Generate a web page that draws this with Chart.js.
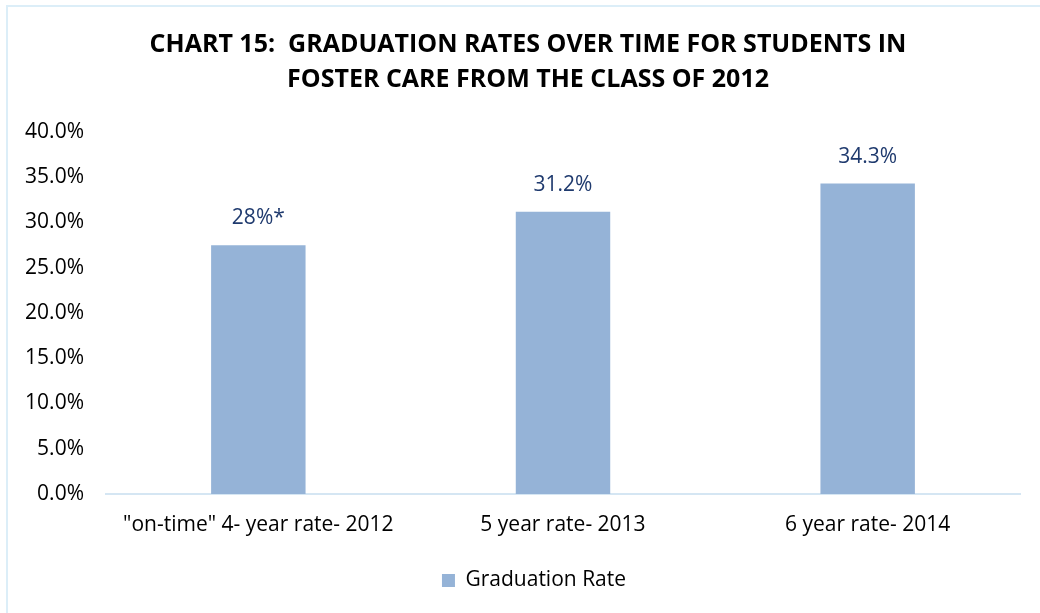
<!DOCTYPE html>
<html>
<head>
<meta charset="utf-8">
<script src="https://cdn.jsdelivr.net/npm/chart.js@4.4.1/dist/chart.umd.min.js"></script>
<style>
  html, body { margin: 0; padding: 0; background: #fff; }
  #wrap { position: relative; width: 1040px; height: 613px; overflow: hidden; }
  #frame { position: absolute; left: 6px; top: 5px; width: 1100px; height: 700px; border: 2px solid #DCEEF8; box-sizing: border-box; pointer-events: none; }
  canvas { position: absolute; left: 0; top: 0; }
</style>
</head>
<body>
<div id="wrap">
  <canvas id="c" width="1040" height="613"></canvas>
  <div id="frame"></div>
</div>
<script>
const categories = ['"on-time" 4- year rate- 2012', '5 year rate- 2013', '6 year rate- 2014'];
const graduationRate = [27.5, 31.2, 34.3];
const valueLabels = ['28%*', '31.2%', '34.3%'];
const titleLines = ['CHART 15:  GRADUATION RATES OVER TIME FOR STUDENTS IN', 'FOSTER CARE FROM THE CLASS OF 2012'];
const seriesName = 'Graduation Rate';

const FONT = '"Open Sans", Lato, sans-serif';

const valueLabelPlugin = {
  id: 'valueLabels',
  afterDatasetsDraw(chart) {
    const ctx = chart.ctx;
    const meta = chart.getDatasetMeta(0);
    ctx.save();
    ctx.font = '21px ' + FONT;
    ctx.fillStyle = '#1F3A6E';
    ctx.textAlign = 'center';
    ctx.textBaseline = 'middle';
    meta.data.forEach((bar, i) => {
      ctx.fillText(valueLabels[i], bar.x, bar.y - 27);
    });
    ctx.restore();
  }
};

const shiftBoxesPlugin = {
  id: 'shiftBoxes',
  afterLayout(chart) {
    if (chart.legend) { chart.legend.left += 24; chart.legend.right += 24; }
    if (chart.titleBlock) { chart.titleBlock.left += 18; chart.titleBlock.right += 18; }
  }
};

new Chart(document.getElementById('c'), {
  type: 'bar',
  data: {
    labels: categories,
    datasets: [{
      label: seriesName,
      data: graduationRate,
      backgroundColor: '#95B3D7',
      borderWidth: 0,
      categoryPercentage: 1.0,
      barPercentage: 0.31
    }]
  },
  plugins: [valueLabelPlugin, shiftBoxesPlugin],
  options: {
    responsive: false,
    animation: false,
    devicePixelRatio: 1,
    layout: { padding: { left: 0, right: 20, top: 0, bottom: 12 } },
    plugins: {
      title: {
        display: true,
        text: titleLines,
        color: '#000',
        font: { family: FONT, size: 25, weight: 'bold', lineHeight: 1.4 },
        padding: { top: 27, bottom: 35 }
      },
      legend: {
        position: 'bottom',
        labels: {
          color: '#000',
          font: { family: FONT, size: 21 },
          boxWidth: 13,
          boxHeight: 13,
          padding: 12
        }
      },
      tooltip: { enabled: false }
    },
    scales: {
      x: {
        grid: { display: false, drawTicks: false },
        border: { display: true, color: '#D5E6F3', width: 2 },
        ticks: { color: '#000', font: { family: FONT, size: 21 }, padding: 18 },
        afterFit(scale) { scale.height = 64; }
      },
      y: {
        min: 0,
        max: 40,
        grid: { display: false, drawTicks: false },
        border: { display: false },
        ticks: {
          stepSize: 5,
          color: '#000',
          font: { family: FONT, size: 21 },
          padding: 22,
          callback: v => v.toFixed(1) + '%'
        },
        afterFit(scale) { scale.width = 106; }
      }
    }
  }
});
</script>
</body>
</html>
